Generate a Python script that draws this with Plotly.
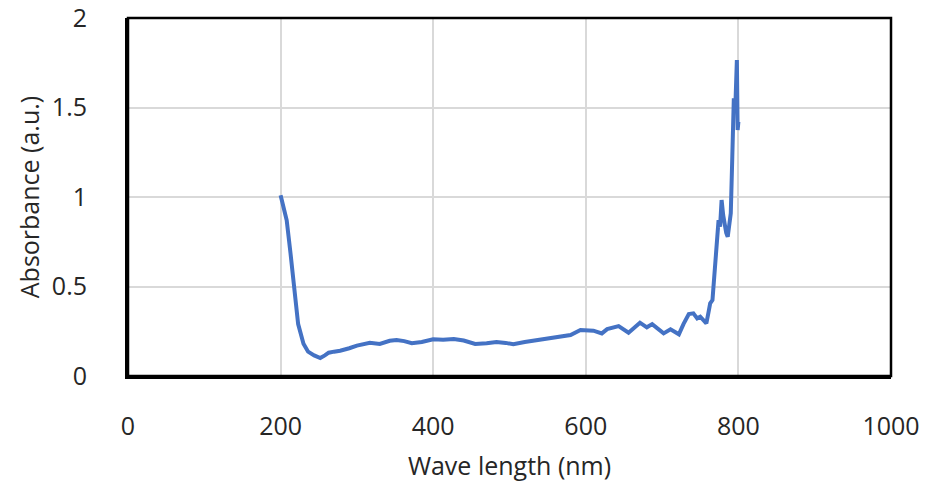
import plotly.graph_objects as go

# UV-Vis absorbance spectrum
wavelength_nm = [200, 204, 208, 213, 218, 223, 230, 236, 244, 252, 258, 263, 270, 278,
                 290, 300, 317, 330, 343, 352, 362, 372, 385, 400, 413, 427, 440,
                 455, 470, 483, 495, 505, 520, 536, 552, 566, 580, 593, 597, 610,
                 621, 628, 643, 656, 671, 680, 687, 695, 702, 711, 722, 728, 735,
                 741, 746, 750, 754, 758, 761, 763, 766, 768, 770, 772, 774, 776,
                 778, 780, 782, 784, 786, 788, 790, 792, 794, 796, 798, 799, 800]
absorbance = [1.01, 0.95, 0.87, 0.685, 0.50, 0.29, 0.18, 0.136, 0.115, 0.10, 0.115, 0.13,
              0.136, 0.141, 0.155, 0.17, 0.186, 0.179, 0.197, 0.201, 0.195, 0.183, 0.19,
              0.205, 0.203, 0.207, 0.198, 0.179, 0.183, 0.19, 0.185, 0.177, 0.19, 0.201,
              0.21, 0.223, 0.229, 0.257, 0.257, 0.253, 0.238, 0.262, 0.279, 0.242,
              0.298, 0.272, 0.29, 0.262, 0.238, 0.261, 0.233, 0.29, 0.346, 0.35, 0.322,
              0.331, 0.31, 0.294, 0.36, 0.406, 0.424, 0.55, 0.666, 0.78, 0.87, 0.834,
              0.983, 0.9, 0.834, 0.80, 0.778, 0.85, 0.909, 1.225, 1.551, 1.504, 1.765,
              1.374, 1.42]

x_ticks = [0, 200, 400, 600, 800, 1000]
y_ticks = [0, 0.5, 1, 1.5, 2]
y_tick_text = ["0", "0.5", "1", "1.5", "2"]

FONT = "Open Sans, Noto Sans, sans-serif"
TEXT_COLOR = "#262626"

fig = go.Figure()
fig.add_trace(go.Scatter(
    x=wavelength_nm, y=absorbance, mode="lines",
    line=dict(color="#4472C4", width=4, shape="linear"),
    showlegend=False,
))

fig.update_layout(
    width=928, height=491,
    margin=dict(l=128, r=37, t=18, b=115),
    paper_bgcolor="white", plot_bgcolor="white",
    font=dict(family=FONT, size=25, color=TEXT_COLOR),
    xaxis=dict(
        range=[0, 1000], tickvals=x_ticks, ticks="", showgrid=True,
        gridcolor="#D9D9D9", gridwidth=2, zeroline=False,
        showline=True, linecolor="black", linewidth=3,
        automargin=False, ticklabelstandoff=26, ticklabeloverflow="allow",
        title=dict(text="Wave length (nm)", standoff=17,
                   font=dict(family=FONT, size=25, color=TEXT_COLOR)),
    ),
    yaxis=dict(
        range=[0, 2], tickvals=y_ticks, ticktext=y_tick_text, ticks="",
        showgrid=True, gridcolor="#D9D9D9", gridwidth=2, zeroline=False,
        showline=True, linecolor="black", linewidth=3,
        automargin=False, ticklabelstandoff=33, ticklabeloverflow="allow",
        title=dict(text="Absorbance (a.u.)", standoff=6,
                   font=dict(family=FONT, size=25, color=TEXT_COLOR)),
    ),
    shapes=[dict(type="rect", xref="paper", yref="paper", x0=0, x1=1, y0=0, y1=1,
                 line=dict(color="black", width=2.5), layer="above")],
)

fig.write_html("out.html")
